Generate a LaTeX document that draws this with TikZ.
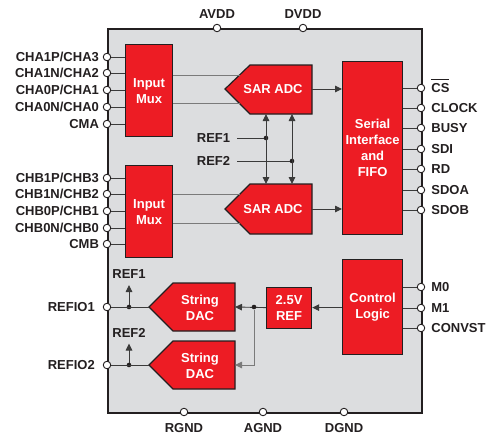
\documentclass[tikz,border=0pt]{standalone}
\usepackage{fontspec}
\setmainfont{Liberation Sans}
\usetikzlibrary{arrows.meta,calc}
\definecolor{tired}{HTML}{ED1C24}
\definecolor{chipbg}{HTML}{DCDDDF}
\definecolor{ink}{HTML}{231F20}
\definecolor{wirec}{HTML}{3A3A3A}
\definecolor{wirel}{HTML}{7A7A7A}
\newcommand\myovl[1]{\setbox0\hbox{#1}\rlap{\rule[12.2pt]{\wd0}{1.2pt}}#1}
\tikzset{
  txt/.style={font=\fontsize{13}{16}\selectfont\bfseries, text=ink, inner sep=0pt, text height=9.3pt, text depth=0pt},
  wtxt/.style={font=\fontsize{13}{16}\selectfont\bfseries, text=white, align=center, inner sep=0pt},
  blk/.style={draw=ink, line width=1.2pt, fill=tired},
  rblk/.style={blk, wtxt, anchor=north west},
  pinc/.style={circle, draw=ink, fill=white, line width=0.9pt, minimum size=7.5pt, inner sep=0pt},
  wire/.style={draw=wirec, line width=0.9pt},
  wirelt/.style={draw=wirel, line width=0.9pt},
  arr/.style={-{Triangle[length=7pt,width=6.5pt]}},
  dblarr/.style={{Triangle[length=7pt,width=6.5pt]}-{Triangle[length=7pt,width=6.5pt]}},
  dotn/.style={circle, fill=ink, minimum size=4.6pt, inner sep=0pt},
}
\begin{document}
\begin{tikzpicture}[x=1pt,y=-1pt]
\useasboundingbox (0,0) rectangle (493,437);
% chip body
\node[draw=ink, fill=chipbg, line width=1.5pt, minimum width=314pt, minimum height=384pt, anchor=north west, inner sep=0pt] (chip) at (107,28) {};

% blocks
\node[rblk, minimum width=47pt, minimum height=92pt] (muxA) at (125,44) {Input\\Mux};
\node[rblk, minimum width=47pt, minimum height=92pt] (muxB) at (125,165) {Input\\Mux};
\node[rblk, minimum width=60pt, minimum height=173pt] (ser) at (342,61) {Serial\\Interface\\and\\FIFO};
\node[rblk, minimum width=60pt, minimum height=95pt] (ctl) at (342,259) {Control\\Logic};
\node[rblk, minimum width=45pt, minimum height=41pt] (ref25) at (266,286.5) {2.5V\\REF};

% SAR ADC pentagons
\draw[blk] (225,89) -- (250,65) -- (312,65) -- (312,114) -- (250,114) -- cycle;
\node[wtxt] (adcA) at (273,89.5) {SAR ADC};
\draw[blk] (225,209) -- (250,184) -- (312,184) -- (312,234) -- (250,234) -- cycle;
\node[wtxt] (adcB) at (273,209.5) {SAR ADC};
% String DAC pentagons
\draw[blk] (149,307) -- (173,283) -- (235,283) -- (235,331) -- (173,331) -- cycle;
\node[wtxt] (dacA) at (200,308) {String\\DAC};
\draw[blk] (149,365) -- (173,341) -- (235,341) -- (235,389) -- (173,389) -- cycle;
\node[wtxt] (dacB) at (200,366) {String\\DAC};

% named points on pentagons
\coordinate (adcAi1) at (239.6,75);
\coordinate (adcAi2) at (239.6,103);
\coordinate (adcBi1) at (240.3,194);
\coordinate (adcBi2) at (239.6,223);
\coordinate (adcAo) at (312,89);
\coordinate (adcBo) at (312,209);
\coordinate (adcAb1) at (266,114);
\coordinate (adcAb2) at (292,114);
\coordinate (adcBt1) at (266,184);
\coordinate (adcBt2) at (292,184);
\coordinate (dacAr) at (235,307);
\coordinate (dacBr) at (235,365);
\coordinate (dacAt) at (149,307);
\coordinate (dacBt) at (149,365);

% mux to ADC
\draw[wirelt] (muxA.east |- adcAi1) -- (adcAi1);
\draw[wirelt] (muxA.east |- adcAi2) -- (adcAi2);
\draw[wirelt] (muxB.east |- adcBi1) -- (adcBi1);
\draw[wirelt] (muxB.east |- adcBi2) -- (adcBi2);
% ADC to serial
\draw[wire, arr] (adcAo) -- (adcAo -| ser.west);
\draw[wire, arr] (adcBo) -- (adcBo -| ser.west);

% REF1 / REF2 distribution
\node[txt] (r1) at (213.5,138) {REF1};
\node[txt] (r2) at (213.5,161) {REF2};
\node[dotn] (d1) at (266,138) {};
\node[dotn] (d2) at (292,161) {};
\draw[wire] ($(r1.east)+(7,0)$) -- (d1);
\draw[wire] ($(r2.east)+(7,0)$) -- (d2);
\draw[wire, dblarr] (adcAb1) -- (adcBt1);
\draw[wire, dblarr] (adcAb2) -- (adcBt2);

% control -> 2.5V ref -> DACs
\draw[wire, arr] (ctl.west |- ref25.east) -- (ref25.east);
\draw[wire, arr] (ref25.west) -- (dacAr);
\node[dotn] (d3) at (254,307) {};
\draw[wirelt, arr] (d3) |- (dacBr);

% left pins
\foreach \n/\y/\t in {a1/57/CHA1P\slash CHA3, a2/73/CHA1N\slash CHA2, a3/90/CHA0P\slash CHA1, a4/107/CHA0N\slash CHA0, a5/124/CMA,
                      b1/178/CHB1P\slash CHB3, b2/194/CHB1N\slash CHB2, b3/211/CHB0P\slash CHB1, b4/228/CHB0N\slash CHB0, b5/244/CMB}{
  \node[pinc] (p\n) at (107,\y) {};
  \node[txt, anchor=east] (l\n) at ($(p\n.west)+(-3.7,0)$) {\t};
}
\foreach \n in {a1,a2,a3,a4,a5}{\draw[wire] (p\n.east) -- (p\n -| muxA.west);}
\foreach \n in {b1,b2,b3,b4,b5}{\draw[wire] (p\n.east) -- (p\n -| muxB.west);}

% REFIO pins
\node[pinc] (pio1) at (107,307) {};
\node[pinc] (pio2) at (107,365) {};
\node[txt, anchor=east] (lio1) at (95,307) {REFIO1};
\node[txt, anchor=east] (lio2) at (95,365) {REFIO2};
\node[dotn] (d4) at (129,307) {};
\node[dotn] (d5) at (129,365) {};
\draw[wire] (pio1.east) -- (dacAt);
\draw[wire] (pio2.east) -- (dacBt);
\coordinate (u1) at (129,285);
\coordinate (u2) at (129,343.5);
\draw[wire, arr] (d4) -- (u1);
\draw[wire, arr] (d5) -- (u2);
\node[txt] (rf1) at (129,274) {REF1};
\node[txt] (rf2) at (129,333) {REF2};

% right pins
\foreach \n/\y/\t in {cs/88/\myovl{CS}, clk/108/CLOCK, busy/128/BUSY, sdi/149/SDI, rd/169/RD, sdoa/190/SDOA, sdob/210/SDOB}{
  \draw[wire] (ser.east |- 0,\y) -- (421,\y);
  \node[pinc] (p\n) at (421,\y) {};
  \node[txt, anchor=west] (l\n) at ($(p\n.east)+(6,0)$) {\t};
}
\foreach \n/\y/\t in {m0/287/M0, m1/308/M1, cnv/328/CONVST}{
  \draw[wire] (ctl.east |- 0,\y) -- (421,\y);
  \node[pinc] (p\n) at (421,\y) {};
  \node[txt, anchor=west] (l\n) at ($(p\n.east)+(6,0)$) {\t};
}

% top and bottom pins
\node[pinc] (pavdd) at (217,28) {};
\node[pinc] (pdvdd) at (303,28) {};
\node[txt] at (217,14) {AVDD};
\node[txt] at (303,14) {DVDD};
\node[pinc] (prgnd) at (184,412) {};
\node[pinc] (pagnd) at (263,412) {};
\node[pinc] (pdgnd) at (344,412) {};
\node[txt] at (184,428) {RGND};
\node[txt] at (263,428) {AGND};
\node[txt] at (344,428) {DGND};
\end{tikzpicture}
\end{document}
